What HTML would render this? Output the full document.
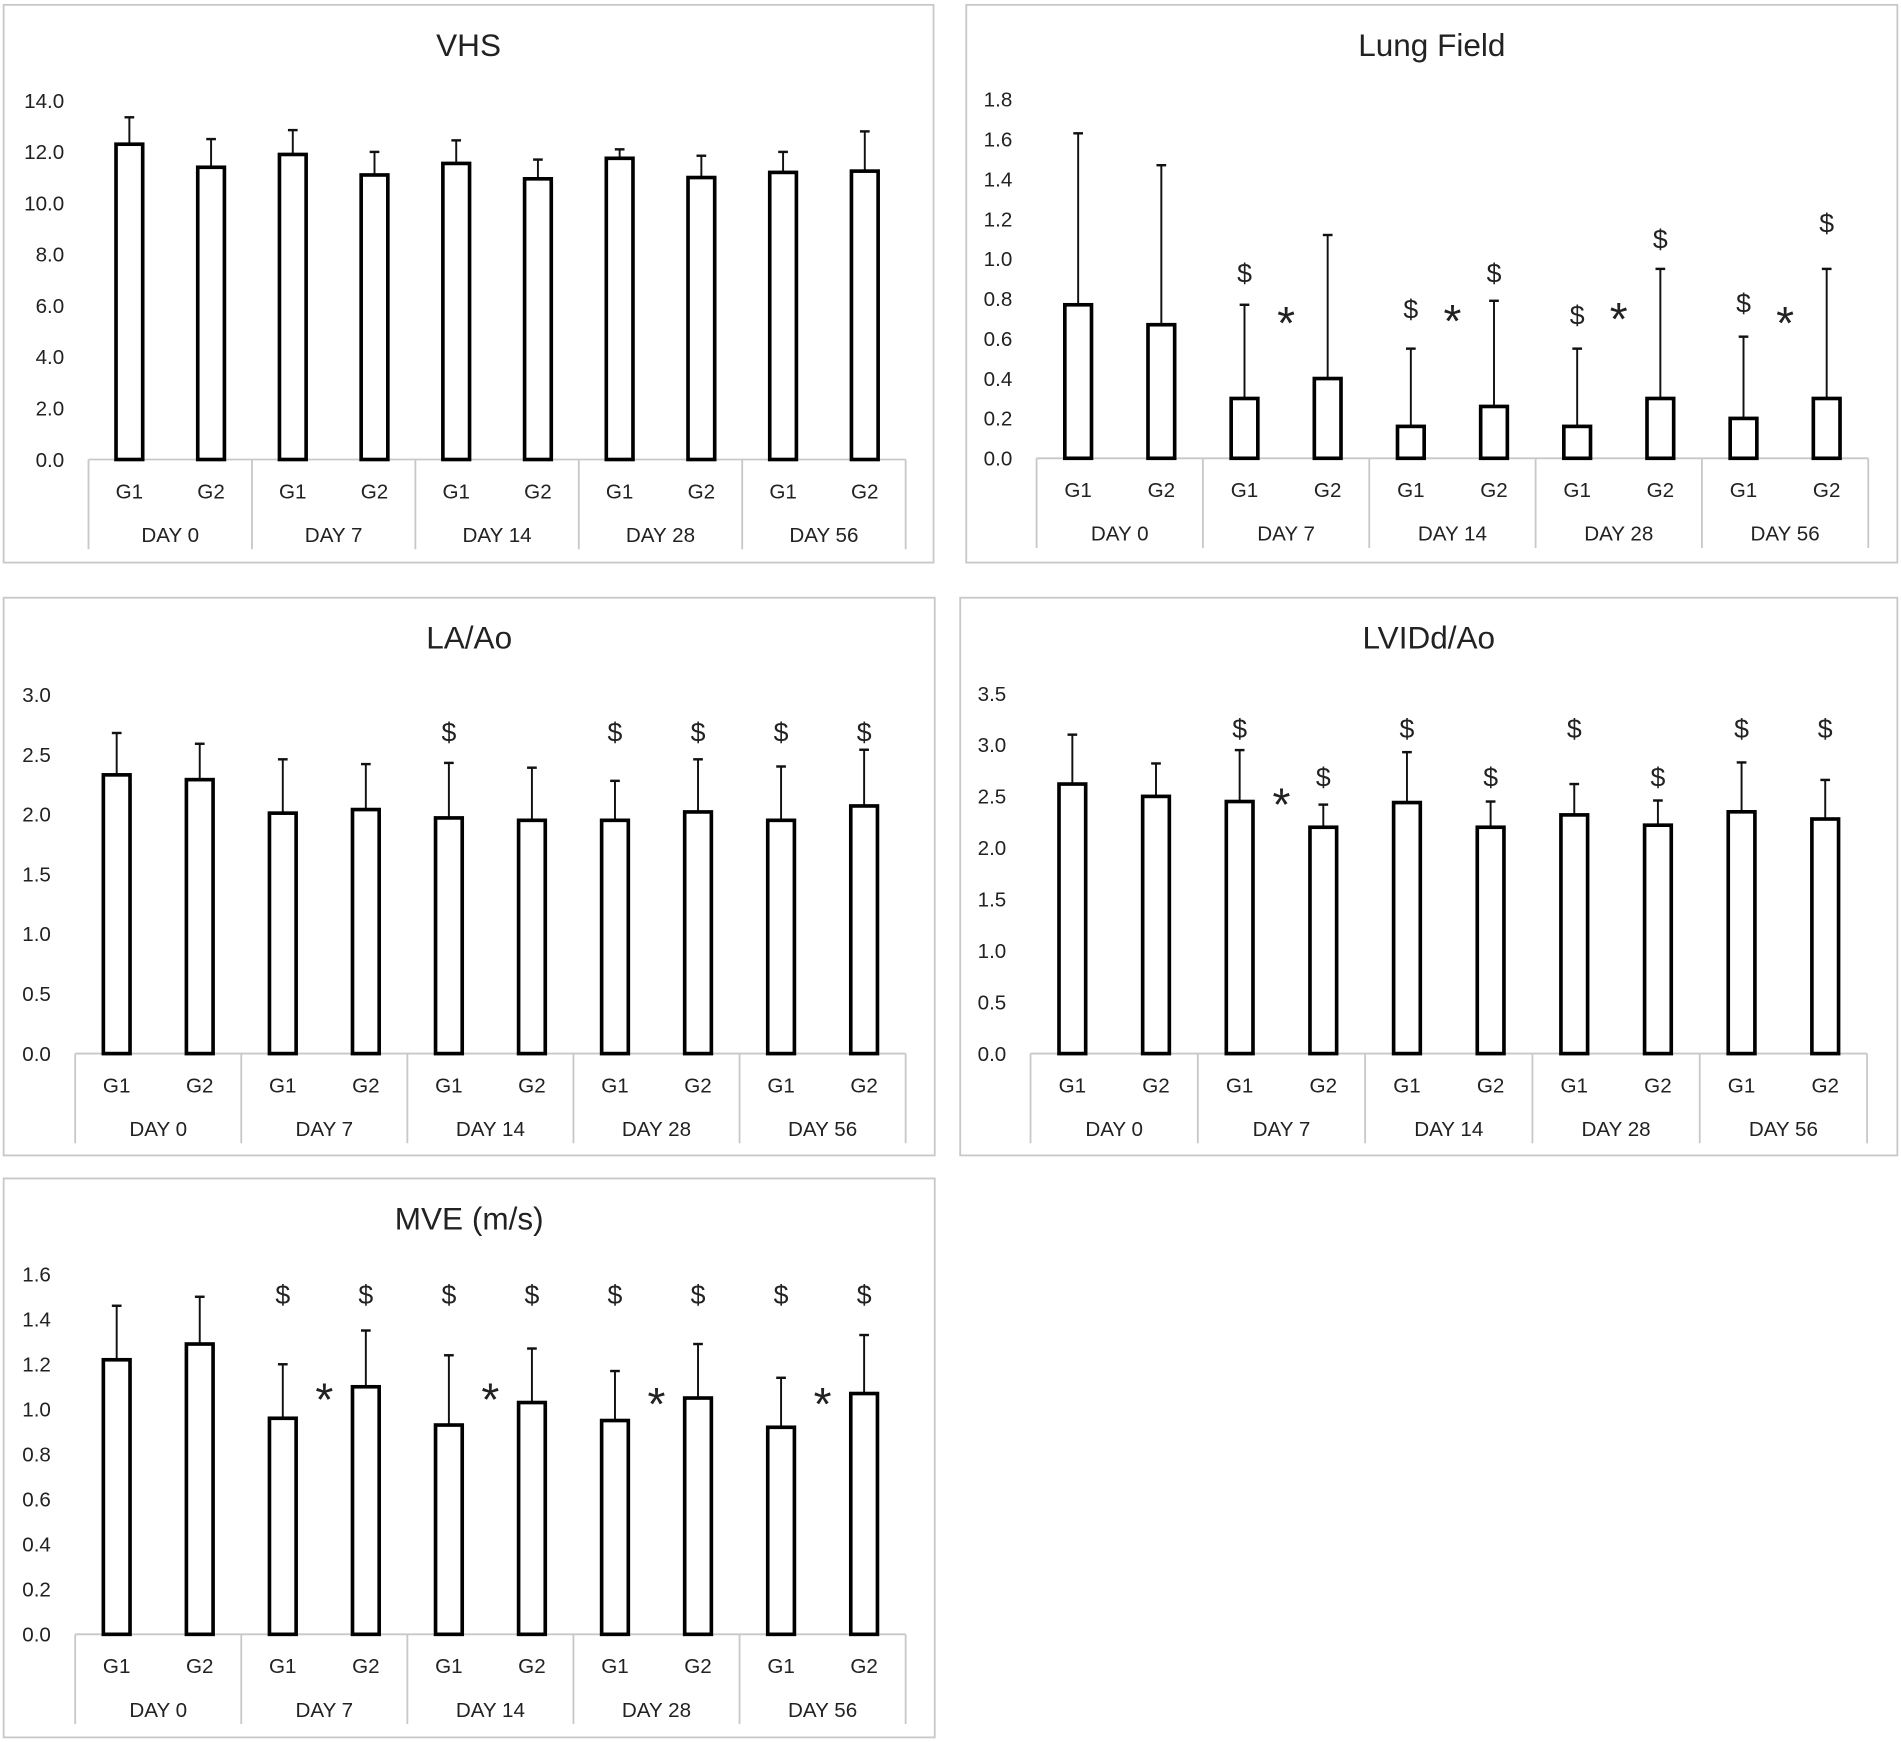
<!DOCTYPE html>
<html><head><meta charset="utf-8"><style>
html,body{margin:0;padding:0;background:#fff;}
svg{display:block;}
text{font-family:"Liberation Sans Narrow","Liberation Sans",sans-serif;fill:#222;}
</style></head>
<body>
<svg id="root" width="1901" height="1742" viewBox="0 0 1568 1436.8" preserveAspectRatio="none" xmlns="http://www.w3.org/2000/svg"></svg>
<script>
const days = ["DAY 0","DAY 7","DAY 14","DAY 28","DAY 56"];
const groups = ["G1","G2"];

const vhsMeans = [12.3,11.4,11.9,11.1,11.55,10.95,11.75,11.0,11.2,11.25];
const vhsTops  = [13.35,12.5,12.85,12.0,12.45,11.7,12.1,11.85,12.0,12.8];
const vhsTicks = ["0.0","2.0","4.0","6.0","8.0","10.0","12.0","14.0"];

const lungMeans = [0.77,0.67,0.30,0.40,0.16,0.26,0.16,0.30,0.20,0.30];
const lungTops  = [1.63,1.47,0.77,1.12,0.55,0.79,0.55,0.95,0.61,0.95];
const lungTicks = ["0.0","0.2","0.4","0.6","0.8","1.0","1.2","1.4","1.6","1.8"];
const lungDollarIdx = [2,4,5,6,7,8,9];
const lungDollarVal = [0.93,0.75,0.93,0.72,1.10,0.78,1.18];
const lungStarDay = [1,2,3,4];
const lungStarVal = [0.72,0.73,0.74,0.72];

const laMeans = [2.33,2.29,2.01,2.04,1.97,1.95,1.95,2.02,1.95,2.07];
const laTops  = [2.68,2.59,2.46,2.42,2.43,2.39,2.28,2.46,2.40,2.54];
const laTicks = ["0.0","0.5","1.0","1.5","2.0","2.5","3.0"];
const laDollarIdx = [4,6,7,8,9];
const laDollarVal = [2.69,2.69,2.69,2.69,2.69];

const lvMeans = [2.62,2.50,2.45,2.20,2.44,2.20,2.32,2.22,2.35,2.28];
const lvTops  = [3.10,2.82,2.95,2.42,2.93,2.45,2.62,2.46,2.83,2.66];
const lvTicks = ["0.0","0.5","1.0","1.5","2.0","2.5","3.0","3.5"];
const lvDollarIdx = [2,3,4,5,6,7,8,9];
const lvDollarVal = [3.16,2.69,3.16,2.69,3.16,2.69,3.16,3.16];
const lvStarDay = [1];
const lvStarVal = [2.5];

const mveMeans = [1.22,1.29,0.96,1.10,0.93,1.03,0.95,1.05,0.92,1.07];
const mveTops  = [1.46,1.50,1.20,1.35,1.24,1.27,1.17,1.29,1.14,1.33];
const mveTicks = ["0.0","0.2","0.4","0.6","0.8","1.0","1.2","1.4","1.6"];
const mveDollarIdx = [2,3,4,5,6,7,8,9];
const mveDollarVal = [1.51,1.51,1.51,1.51,1.51,1.51,1.51,1.51];
const mveStarDay = [1,2,3,4];
const mveStarVal = [1.08,1.08,1.06,1.06];

const NS="http://www.w3.org/2000/svg";
const root=document.getElementById('root');
function mk(tag,attrs,parent){const e=document.createElementNS(NS,tag);for(const k in attrs)e.setAttribute(k,attrs[k]);(parent||root).appendChild(e);return e;}

function chart(o){
  const g=mk('g',{});
  
  
  const box=mk('rect',{x:o.bx,y:o.by,width:o.bw,height:o.bh,fill:'#fff',stroke:'#c8c8c8','stroke-width':1.5},g);
  
  
  const t=mk('text',{x:o.bx+o.bw/2,y:o.by+42,'text-anchor':'middle','font-size':26},g);
  t.textContent=o.title;
  
  
  const yMax=parseFloat(o.ticks[o.ticks.length-1]);
  const ys=v=>o.y0-(v/yMax)*(o.y0-o.yTop);
  const n=o.means.length;
  const cw=(o.x1-o.x0)/n;
  const xs=i=>o.x0+cw*(i+0.5);
  o.ticks.forEach(tk=>{
    const e=mk('text',{x:o.x0-20,y:ys(parseFloat(tk))+6,'text-anchor':'end','font-size':17},g);
    e.textContent=tk;
    
    
  });
  mk('line',{x1:o.x0,y1:o.y0,x2:o.x1,y2:o.y0,stroke:'#c8c8c8','stroke-width':1.5},g);
  for(let d=0;d<=days.length;d++){
    const x=o.x0+cw*2*d;
    mk('line',{x1:x,y1:o.y0,x2:x,y2:o.y0+74,stroke:'#c8c8c8','stroke-width':1.5},g);
  }
  for(let i=0;i<n;i++){
    const e=mk('text',{x:xs(i),y:o.y0+32,'text-anchor':'middle','font-size':17},g);
    e.textContent=groups[i%2];
    
    
  }
  days.forEach((d,j)=>{
    const e=mk('text',{x:o.x0+cw*(2*j+1),y:o.y0+68,'text-anchor':'middle','font-size':17},g);
    e.textContent=d;
    
    
  });
  const bw=22;
  for(let i=0;i<n;i++){
    const x=xs(i);
    const el=mk('line',{x1:x,y1:ys(o.means[i]),x2:x,y2:ys(o.tops[i]),stroke:'#111','stroke-width':1.6},g);
    
    
    mk('line',{x1:x-4,y1:ys(o.tops[i]),x2:x+4,y2:ys(o.tops[i]),stroke:'#111','stroke-width':2},g);
    const r=mk('rect',{x:x-bw/2,y:ys(o.means[i]),width:bw,height:o.y0-ys(o.means[i]),fill:'#fff',stroke:'#000','stroke-width':3},g);
    
    
  }
  (o.dIdx||[]).forEach((idx,k)=>{
    const e=mk('text',{x:xs(idx),y:ys(o.dVal[k])+8,'text-anchor':'middle','font-size':22},g);
    e.textContent='$';
    
    
  });
  (o.sDay||[]).forEach((d,k)=>{
    const e=mk('text',{x:o.x0+cw*(2*d+1),y:ys(o.sVal[k])+20,'text-anchor':'middle','font-size':38,fill:'#000'},g);
    e.textContent='*';
    
    
  });
}

chart({name:'vhs',title:'VHS',bx:3,by:4,bw:767,bh:460,x0:73,x1:747,y0:379,yTop:83,means:vhsMeans,tops:vhsTops,ticks:vhsTicks});
chart({name:'lung-field',title:'Lung Field',bx:797,by:4,bw:768,bh:460,x0:855,x1:1541,y0:378,yTop:82,means:lungMeans,tops:lungTops,ticks:lungTicks,dIdx:lungDollarIdx,dVal:lungDollarVal,sDay:lungStarDay,sVal:lungStarVal});
chart({name:'la-ao',title:'LA/Ao',bx:3,by:493,bw:768,bh:460,x0:62,x1:747,y0:869,yTop:573,means:laMeans,tops:laTops,ticks:laTicks,dIdx:laDollarIdx,dVal:laDollarVal});
chart({name:'lvidd-ao',title:'LVIDd/Ao',bx:792,by:493,bw:773,bh:460,x0:850,x1:1540,y0:869,yTop:572,means:lvMeans,tops:lvTops,ticks:lvTicks,dIdx:lvDollarIdx,dVal:lvDollarVal,sDay:lvStarDay,sVal:lvStarVal});
chart({name:'mve',title:'MVE (m/s)',bx:3,by:972,bw:768,bh:461,x0:62,x1:747,y0:1348,yTop:1051,means:mveMeans,tops:mveTops,ticks:mveTicks,dIdx:mveDollarIdx,dVal:mveDollarVal,sDay:mveStarDay,sVal:mveStarVal});
</script>
</body></html>
